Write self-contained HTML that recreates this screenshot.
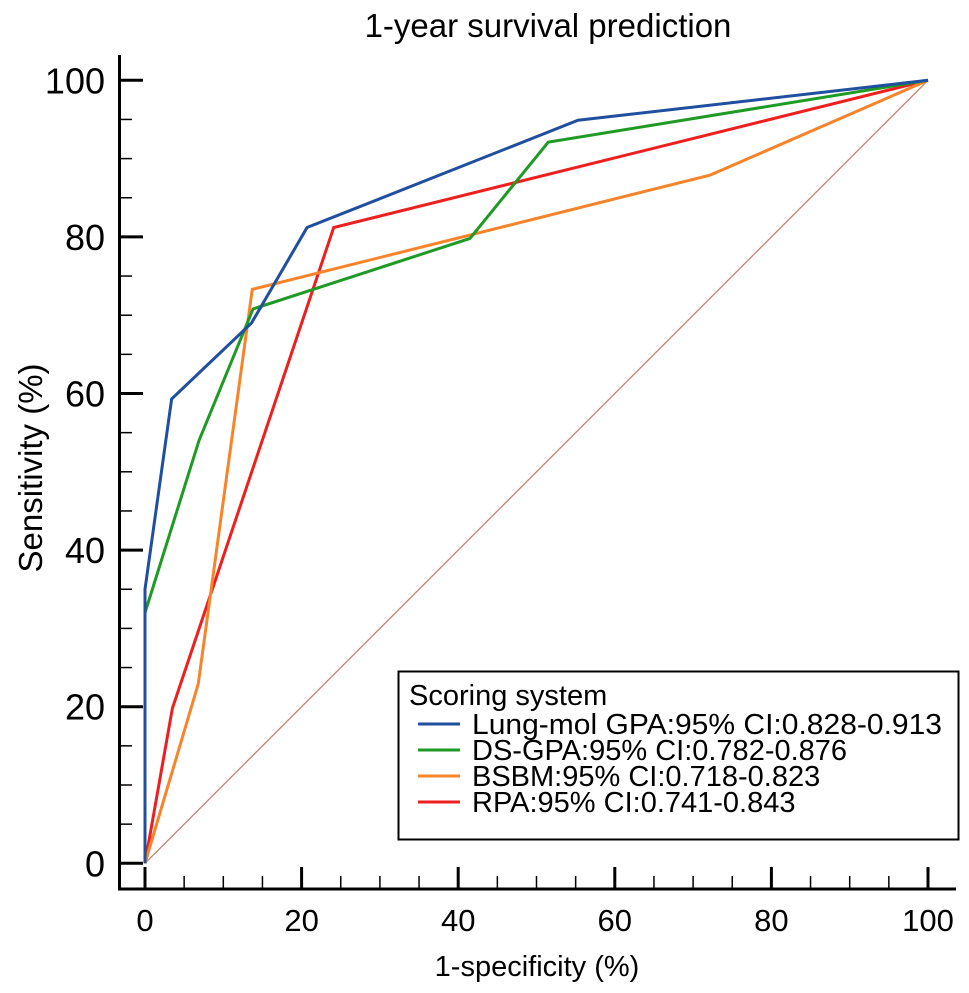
<!DOCTYPE html>
<html><head><meta charset="utf-8"><style>
html,body{margin:0;padding:0;background:#fff;}
svg{display:block;font-family:"Liberation Sans",Arial,sans-serif;}
</style></head><body>
<svg id="chart" width="969" height="993" viewBox="0 0 969 993">
<text x="548" y="37" font-size="33" text-anchor="middle">1-year survival prediction</text>
<text transform="translate(42,468) rotate(-90)" font-size="33" text-anchor="middle">Sensitivity (%)</text>
<text x="537" y="976" font-size="29" text-anchor="middle">1-specificity (%)</text>
<g id="axes"></g>
<g id="series"></g>
<g>
<rect x="398.5" y="671.5" width="560" height="168" fill="#fff" stroke="#000" stroke-width="2"/>
<text x="409" y="705" font-size="29">Scoring system</text>
<g id="legend-items"></g>
</g>
</svg>
<script>
const names = ["Lung-mol GPA:95% CI:0.828-0.913","DS-GPA:95% CI:0.782-0.876","BSBM:95% CI:0.718-0.823","RPA:95% CI:0.741-0.843"];
const colors = ["#1f4f9e","#1f9a24","#f7842a","#ee1f1f"];
const blueX = [0,0,3.4,13.6,20.7,55.3,100];
const blueY = [0,35,59.3,69,81.2,94.9,100];
const greenX = [0,0,6.9,13.8,41.5,51.5,100];
const greenY = [0,32,54,70.8,79.8,92.1,100];
const orangeX = [0,6.8,13.7,72.2,100];
const orangeY = [0,22.9,73.3,87.9,100];
const redX = [0,3.5,24.1,100];
const redY = [0,19.8,81.2,100];
const xTicks = [0,20,40,60,80,100];
const yTicks = [0,20,40,60,80,100];

const NS="http://www.w3.org/2000/svg";
const sx = v => 145 + v*7.83;
const sy = v => 863.3 - v*7.83;
function mk(tag, attrs, parent){const e=document.createElementNS(NS,tag);for(const k in attrs)e.setAttribute(k,attrs[k]);parent.appendChild(e);return e;}
const axes=document.getElementById('axes');
const ya=mk('line',{x1:119.5,y1:55,x2:119.5,y2:890,stroke:'#000','stroke-width':3},axes);


const xa=mk('line',{x1:118,y1:889,x2:956,y2:889,stroke:'#000','stroke-width':3},axes);


for(let v=0;v<=100;v+=5){
  const major=v%20===0;
  const t=mk('line',{x1:119.5,x2:major?143:132,y1:sy(v),y2:sy(v),stroke:'#000','stroke-width':major?3:1.5},axes);
  
  
  const u=mk('line',{x1:sx(v),x2:sx(v),y1:889,y2:major?867:876,stroke:'#000','stroke-width':major?3:1.5},axes);
  
  
}
yTicks.forEach(v=>{const t=mk('text',{x:105,y:sy(v)+13,'font-size':36,'text-anchor':'end'},axes);t.textContent=v;
  
  });
xTicks.forEach(v=>{const t=mk('text',{x:sx(v),y:931,'font-size':31,'text-anchor':'middle'},axes);t.textContent=v;
  
  });
const ser=document.getElementById('series');
const d=mk('line',{x1:sx(0),y1:sy(0),x2:sx(100),y2:sy(100),stroke:'#c8806e','stroke-width':1.3},ser);


const data=[[blueX,blueY],[greenX,greenY],[orangeX,orangeY],[redX,redY]];
const sn=['lung-mol-gpa-line','ds-gpa-line','bsbm-line','rpa-line'];
[3,2,1,0].forEach(i=>{
  const p=mk('polyline',{points:data[i][0].map((x,j)=>sx(x)+','+sy(data[i][1][j])).join(' '),fill:'none',stroke:colors[i],'stroke-width':3,'stroke-linejoin':'miter'},ser);
  
  
});
const li=document.getElementById('legend-items');
names.forEach((n,i)=>{
  const y=724+i*26;
  const l=mk('line',{x1:418,x2:460,y1:y,y2:y,stroke:colors[i],'stroke-width':3},li);
  
  
  const t=mk('text',{x:472,y:y+10,'font-size':29,textLength:470,lengthAdjust:'spacingAndGlyphs'},li);t.textContent=n;
  if(i>0)t.removeAttribute('textLength');
  
  
});
</script>
</body></html>
